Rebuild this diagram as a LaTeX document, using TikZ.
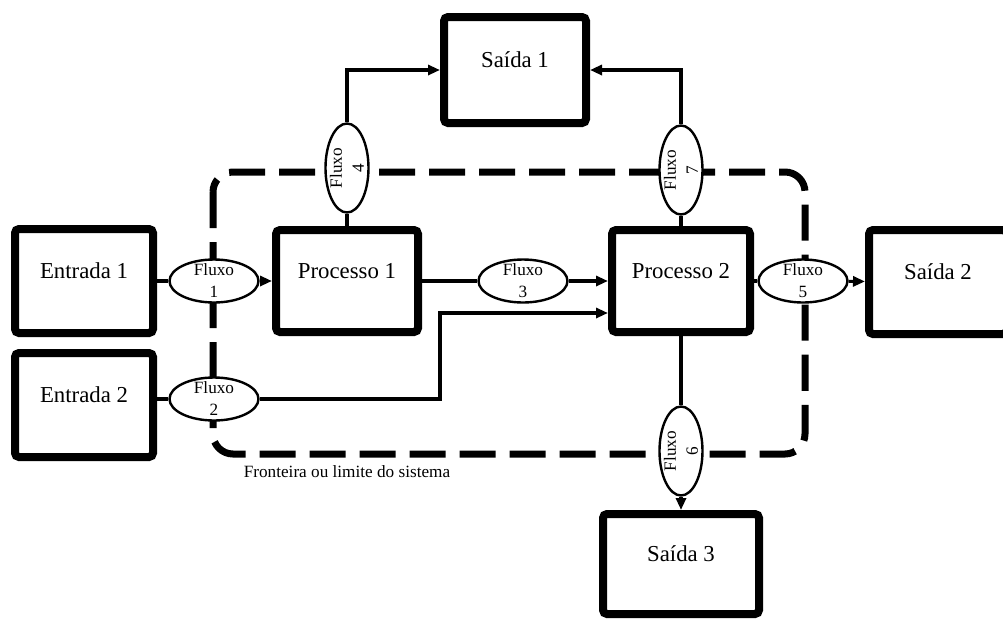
\documentclass[tikz,border=0pt]{standalone}
\usepackage{fontspec}
\setmainfont{Liberation Serif}
\usetikzlibrary{shapes.geometric,arrows.meta}
\begin{document}
\begin{tikzpicture}[x=0.5pt,y=-0.5pt,
  caixa/.style={draw,line width=4pt,rounded corners=2pt,fill=white,minimum width=69pt,minimum height=52pt,text height=8pt,text depth=10.5pt,font=\fontsize{11.4}{13}\selectfont},
  fluxo/.style={draw,ellipse,line width=1.2pt,fill=white,minimum width=44.5pt,minimum height=21.5pt,inner sep=-4pt,align=center,font=\fontsize{8.6}{11}\selectfont},
  liga/.style={line width=1.6pt},
  seta/.style={line width=1.6pt,-{Triangle[length=6pt,width=5pt]}},
  fronteira/.style={line width=3.5pt,dash pattern=on 18pt off 7pt,rounded corners=10pt}]
\useasboundingbox (0,0) rectangle (1003,618);
% fronteira do sistema
\path[draw,fronteira] (213,172) rectangle (805,454);
% caixas
\node[caixa] (ent1) at (84,281) {Entrada 1};
\node[caixa] (ent2) at (84,405) {Entrada 2};
\node[caixa,minimum width=71pt,minimum height=51pt] (proc1) at (347,281) {Processo 1};
\node[caixa,minimum height=51pt] (proc2) at (681,281) {Processo 2};
\node[caixa,minimum width=71pt,minimum height=53pt] (sai1) at (515,70) {Saída 1};
\node[caixa] (sai2) at (938,282) {Saída 2};
\node[caixa,minimum width=78pt,minimum height=50pt] (sai3) at (681,564) {Saída 3};
% fluxos
\node[fluxo] (fl1) at (214,281) {Fluxo\\1};
\node[fluxo] (fl2) at (214,399) {Fluxo\\2};
\node[fluxo] (fl3) at (523,281) {Fluxo\\3};
\node[fluxo,rotate=90] (fl4) at (347,168) {Fluxo\\4};
\node[fluxo] (fl5) at (803,281) {Fluxo\\5};
\node[fluxo,rotate=90] (fl6) at (681,451) {Fluxo\\6};
\node[fluxo,rotate=90] (fl7) at (681,170) {Fluxo\\7};
\node[font=\fontsize{8.6}{10}\selectfont] (rotulo) at (347,472) {Fronteira ou limite do sistema};
% ligacoes
\coordinate (dobra) at (440,313);
\path[draw,liga] (ent1) -- (fl1);
\path[draw,seta] (fl1) -- (proc1);
\path[draw,liga] (ent2.east |- fl2) -- (fl2);
\path[draw,seta] (fl2) -| (dobra) -- (dobra -| proc2.west);
\path[draw,liga] (proc1) -- (fl3);
\path[draw,seta] (fl3) -- (proc2);
\path[draw,liga] (proc2) -- (fl5);
\path[draw,seta] (fl5) -- (sai2);
\path[draw,liga] (proc1) -- (fl4);
\path[draw,seta] (fl4) |- (sai1);
\path[draw,liga] (proc2) -- (fl7);
\path[draw,seta] (fl7) |- (sai1);
\path[draw,liga] (proc2) -- (fl6);
\path[draw,seta] (fl6) -- (sai3);
\end{tikzpicture}
\end{document}
